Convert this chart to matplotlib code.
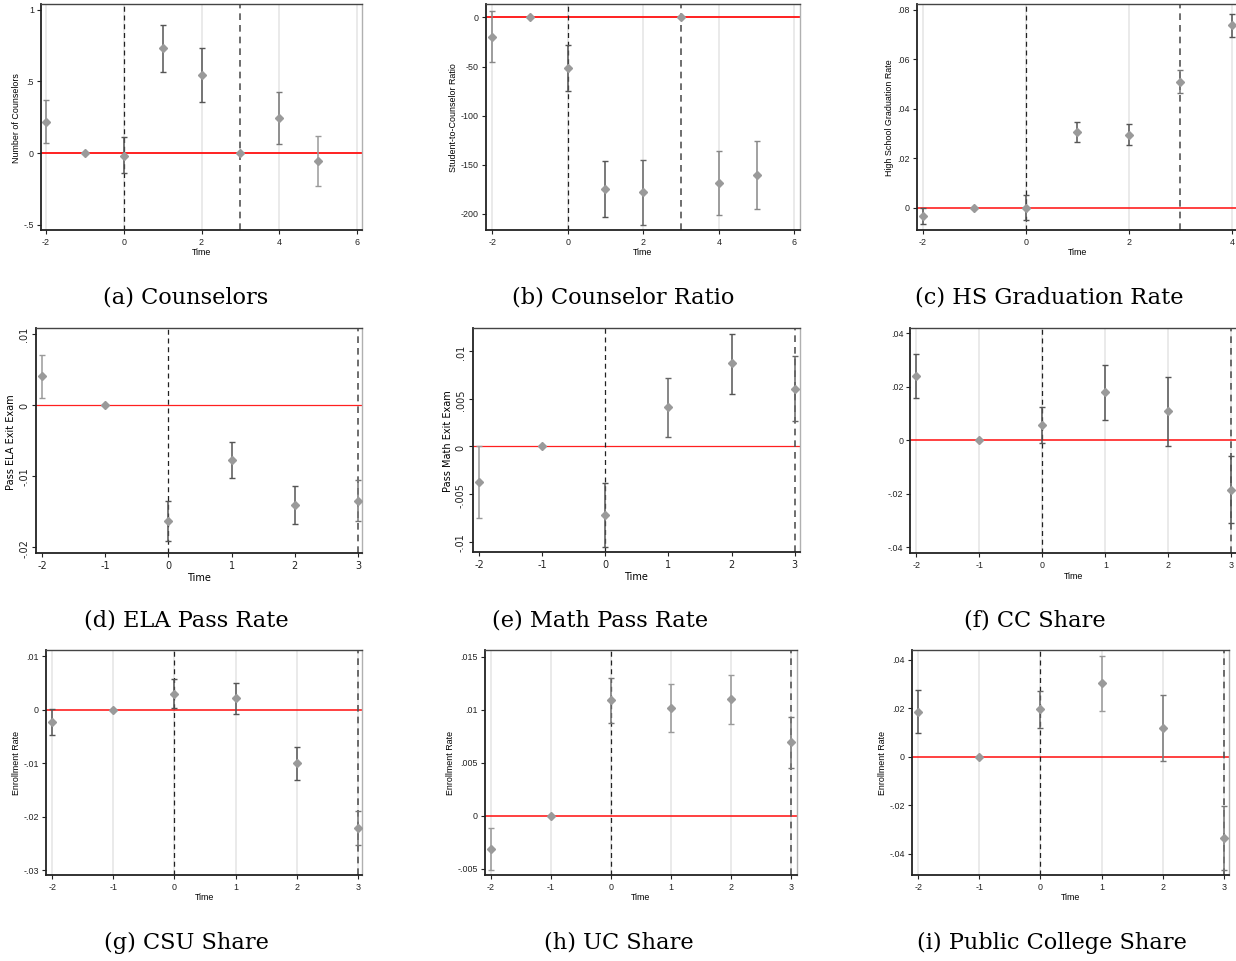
import matplotlib
matplotlib.use("Agg")
import matplotlib.pyplot as plt

# ---------------- data ----------------
times_a = [-2, -1, 0, 1, 2, 3, 4, 5]
coef_a = [0.22, 0.0, -0.02, 0.73, 0.545, 0.0, 0.245, -0.055]
lo_a = [0.07, 0.0, -0.14, 0.565, 0.357, 0.0, 0.061, -0.231]
hi_a = [0.373, 0.0, 0.11, 0.893, 0.732, 0.0, 0.427, 0.121]

times_b = [-2, -1, 0, 1, 2, 3, 4, 5]
coef_b = [-19.7, 0.0, -51.3, -174.2, -177.6, 0.0, -168.4, -159.9]
lo_b = [-45.8, 0.0, -74.4, -202.7, -210.9, 0.0, -200.7, -194.6]
hi_b = [6.8, 0.0, -27.8, -146.0, -145.0, 0.0, -135.8, -125.6]

times_c = [-2, -1, 0, 1, 2, 3, 4]
coef_c = [-0.0035, 0.0, 0.0, 0.0305, 0.0295, 0.051, 0.0739]
lo_c = [-0.0067, 0.0, -0.0049, 0.0264, 0.0252, 0.0465, 0.0692]
hi_c = [-0.0003, 0.0, 0.005, 0.0345, 0.034, 0.0556, 0.0785]

times_d = [-2, -1, 0, 1, 2, 3]
coef_d = [0.00402, 0.0, -0.01629, -0.00768, -0.01404, -0.01343]
lo_d = [0.00103, 0.0, -0.01905, -0.01025, -0.01666, -0.01633]
hi_d = [0.00697, 0.0, -0.01348, -0.00515, -0.01133, -0.01053]

times_e = [-2, -1, 0, 1, 2, 3]
coef_e = [-0.00375, 0.0, -0.00722, 0.0041, 0.00872, 0.00602]
lo_e = [-0.00753, 0.0, -0.01061, 0.00102, 0.00553, 0.00263]
hi_e = [0.0, 0.0, -0.00385, 0.00722, 0.01187, 0.00946]

times_f = [-2, -1, 0, 1, 2, 3]
coef_f = [0.02405, 0.0, 0.00573, 0.01794, 0.01097, -0.01844]
lo_f = [0.01583, 0.0, -0.00112, 0.00773, -0.002, -0.0309]
hi_f = [0.03215, 0.0, 0.01259, 0.02816, 0.0238, -0.00598]

times_g = [-2, -1, 0, 1, 2, 3]
coef_g = [-0.0023, 0.0, 0.00305, 0.00218, -0.00997, -0.022]
lo_g = [-0.00467, 0.0, 0.00044, -0.00069, -0.01308, -0.02517]
hi_g = [0.0001, 0.0, 0.0058, 0.00511, -0.00685, -0.01888]

times_h = [-2, -1, 0, 1, 2, 3]
coef_h = [-0.00311, 0.0, 0.01088, 0.01019, 0.01097, 0.00692]
lo_h = [-0.00509, 0.0, 0.00877, 0.00792, 0.00862, 0.00453]
hi_h = [-0.00113, 0.0, 0.01302, 0.01245, 0.0133, 0.00934]

times_i = [-2, -1, 0, 1, 2, 3]
coef_i = [0.01856, 0.0, 0.01966, 0.03024, 0.01182, -0.03354]
lo_i = [0.00962, 0.0, 0.01196, 0.01897, -0.00192, -0.04674]
hi_i = [0.02763, 0.0, 0.02722, 0.04137, 0.02557, -0.02048]

captions = ["(a) Counselors", "(b) Counselor Ratio", "(c) HS Graduation Rate",
            "(d) ELA Pass Rate", "(e) Math Pass Rate", "(f) CC Share",
            "(g) CSU Share", "(h) UC Share", "(i) Public College Share"]
ylabels = ["Number of Counselors", "Student-to-Counselor Ratio",
           "High School Graduation Rate", "Pass ELA Exit Exam",
           "Pass Math Exit Exam", "", "Enrollment Rate", "Enrollment Rate",
           "Enrollment Rate"]
xlabel = "Time"

yticks_a = [-0.5, 0, 0.5, 1]
yticklabels_a = ["-.5", "0", ".5", "1"]
yticks_b = [-200, -150, -100, -50, 0]
yticklabels_b = ["-200", "-150", "-100", "-50", "0"]
yticks_c = [0, 0.02, 0.04, 0.06, 0.08]
yticklabels_c = ["0", ".02", ".04", ".06", ".08"]
yticks_d = [-0.02, -0.01, 0, 0.01]
yticklabels_d = ["-.02", "-.01", "0", ".01"]
yticks_e = [-0.01, -0.005, 0, 0.005, 0.01]
yticklabels_e = ["-.01", "-.005", "0", ".005", ".01"]
yticks_f = [-0.04, -0.02, 0, 0.02, 0.04]
yticklabels_f = ["-.04", "-.02", "0", ".02", ".04"]
yticks_g = [-0.03, -0.02, -0.01, 0, 0.01]
yticklabels_g = ["-.03", "-.02", "-.01", "0", ".01"]
yticks_h = [-0.005, 0, 0.005, 0.01, 0.015]
yticklabels_h = ["-.005", "0", ".005", ".01", ".015"]
yticks_i = [-0.04, -0.02, 0, 0.02, 0.04]
yticklabels_i = ["-.04", "-.02", "0", ".02", ".04"]

xticks_wide = [-2, 0, 2, 4, 6]
xticks_c = [-2, 0, 2, 4]
xticks_short = [-2, -1, 0, 1, 2, 3]
event_lines = [0, 3]

# ---------------- styles / layout ----------------
W, H = 1236, 962
D, M, L = "#555555", "#777777", "#9a9a9a"

panels = [
    dict(t=times_a, c=coef_a, lo=lo_a, hi=hi_a, yt=yticks_a, ytl=yticklabels_a,
         xt=xticks_wide, box=(41, 5, 362, 231), xlim=(-2.13, 6.13), ylim=(-0.535, 1.04),
         ecol=["#888888", D, D, D, D, D, M, L], grid=True, font="Liberation Sans", fs=6.4, rot=0, lw0=1.4),
    dict(t=times_b, c=coef_b, lo=lo_b, hi=hi_b, yt=yticks_b, ytl=yticklabels_b,
         xt=xticks_wide, box=(485.7, 5, 800, 230.7), xlim=(-2.17, 6.15), ylim=(-216, 13.6),
         ecol=["#888888", D, D, D, "#666666", D, "#888888", "#888888"], grid=True, font="Liberation Sans", fs=6.4, rot=0, lw0=1.4),
    dict(t=times_c, c=coef_c, lo=lo_c, hi=hi_c, yt=yticks_c, ytl=yticklabels_c,
         xt=xticks_c, box=(916.7, 5, 1238, 230.7), xlim=(-2.12, 4.12), ylim=(-0.0089, 0.0824),
         ecol=[D, D, D, D, D, M, D], grid=True, font="Liberation Sans", fs=6.4, rot=0, lw0=1.2),
    dict(t=times_d, c=coef_d, lo=lo_d, hi=hi_d, yt=yticks_d, ytl=yticklabels_d,
         xt=xticks_short, box=(36, 329.3, 362, 554.3), xlim=(-2.095, 3.063), ylim=(-0.02084, 0.01075),
         ecol=[L, D, D, D, D, M], grid=False, font="DejaVu Sans", fs=7.0, rot=90, lw0=0.9),
    dict(t=times_e, c=coef_e, lo=lo_e, hi=hi_e, yt=yticks_e, ytl=yticklabels_e,
         xt=xticks_short, box=(472.7, 329, 800, 553.3), xlim=(-2.1, 3.085), ylim=(-0.01112, 0.01245),
         ecol=[L, D, D, "#666666", D, "#666666"], grid=False, font="DejaVu Sans", fs=7.0, rot=90, lw0=0.9),
    dict(t=times_f, c=coef_f, lo=lo_f, hi=hi_f, yt=yticks_f, ytl=yticklabels_f,
         xt=xticks_short, box=(910.3, 329, 1236.5, 554.3), xlim=(-2.095, 3.08), ylim=(-0.0422, 0.042),
         ecol=[D, D, D, D, D, D], grid=True, font="Liberation Sans", fs=6.4, rot=0, lw0=1.2),
    dict(t=times_g, c=coef_g, lo=lo_g, hi=hi_g, yt=yticks_g, ytl=yticklabels_g,
         xt=xticks_short, box=(46, 650.7, 362.3, 876), xlim=(-2.103, 3.076), ylim=(-0.03087, 0.01125),
         ecol=[D, D, D, D, D, M], grid=True, font="Liberation Sans", fs=6.4, rot=0, lw0=1.2),
    dict(t=times_h, c=coef_h, lo=lo_h, hi=hi_h, yt=yticks_h, ytl=yticklabels_h,
         xt=xticks_short, box=(485, 650.7, 797, 875.7), xlim=(-2.095, 3.1), ylim=(-0.00557, 0.01566),
         ecol=[L, L, M, L, L, M], grid=True, font="Liberation Sans", fs=6.4, rot=0, lw0=1.2),
    dict(t=times_i, c=coef_i, lo=lo_i, hi=hi_i, yt=yticks_i, ytl=yticklabels_i,
         xt=xticks_short, box=(912, 650.7, 1229.3, 875.7), xlim=(-2.1, 3.09), ylim=(-0.0487, 0.0441),
         ecol=[D, "#666666", "#666666", L, M, M], grid=True, font="Liberation Sans", fs=6.4, rot=0, lw0=1.2),
]
caption_pos = [(186, 298), (623, 298), (1049, 298),
               (186, 620), (600, 620), (1035, 620),
               (186, 943), (619, 943), (1052, 943)]

fig = plt.figure(figsize=(W / 100, H / 100), dpi=100)
fig.patch.set_facecolor("white")

for p, ylab, cap, (cx, cy) in zip(panels, ylabels, captions, caption_pos):
    l, t, r, b = p["box"]
    ax = fig.add_axes([l / W, 1 - b / H, (r - l) / W, (b - t) / H])
    ax.set_xlim(*p["xlim"])
    ax.set_ylim(*p["ylim"])
    font = p["font"]
    fs = p["fs"]
    if p["grid"]:
        for xv in p["xt"]:
            ax.axvline(xv, color="#e4e4e4", lw=1.1, zorder=0)
    ax.axhline(0, color="#ff2020", lw=p["lw0"], zorder=1)
    ax.axvline(event_lines[0], color="#222222", lw=0.9, ls=(0, (4, 3)), zorder=2)
    ax.axvline(event_lines[1], color="#555555", lw=1.2, ls=(0, (4, 3)), zorder=2)
    for x, c, lo, hi, col in zip(p["t"], p["c"], p["lo"], p["hi"], p["ecol"]):
        if hi - lo > 0:
            ax.errorbar([x], [c], yerr=[[c - lo], [hi - c]], fmt="none",
                        ecolor=col, elinewidth=1.1, capsize=2.3, capthick=1.0, zorder=3)
    ax.plot(p["t"], p["c"], ls="none", marker="D", ms=4.2, color="#9a9a9a",
            mec="#9a9a9a", zorder=4)
    ax.set_xticks(p["xt"])
    ax.set_xticklabels([str(v) for v in p["xt"]], fontsize=fs, family=font)
    ax.set_yticks(p["yt"])
    ax.set_yticklabels(p["ytl"], fontsize=fs, family=font, rotation=p["rot"],
                       va="center")
    ax.tick_params(length=3, width=0.8, pad=2, colors="#222222")
    for s in ["left", "bottom", "top"]:
        ax.spines[s].set_color("#222222")
        ax.spines[s].set_linewidth(1.3)
    ax.spines["top"].set_color("#444444")
    ax.spines["top"].set_linewidth(1.0)
    ax.spines["right"].set_color("#b0b0b0")
    ax.spines["right"].set_linewidth(1.0)
    ax.set_xlabel(xlabel, fontsize=fs, family=font, labelpad=1)
    if ylab:
        ax.set_ylabel(ylab, fontsize=fs, family=font, labelpad=2)
    fig.text(cx / W, 1 - cy / H, cap, ha="center", va="center",
             fontsize=16.2, family="DejaVu Serif")

fig.savefig("out.png", dpi=100, facecolor="white")
